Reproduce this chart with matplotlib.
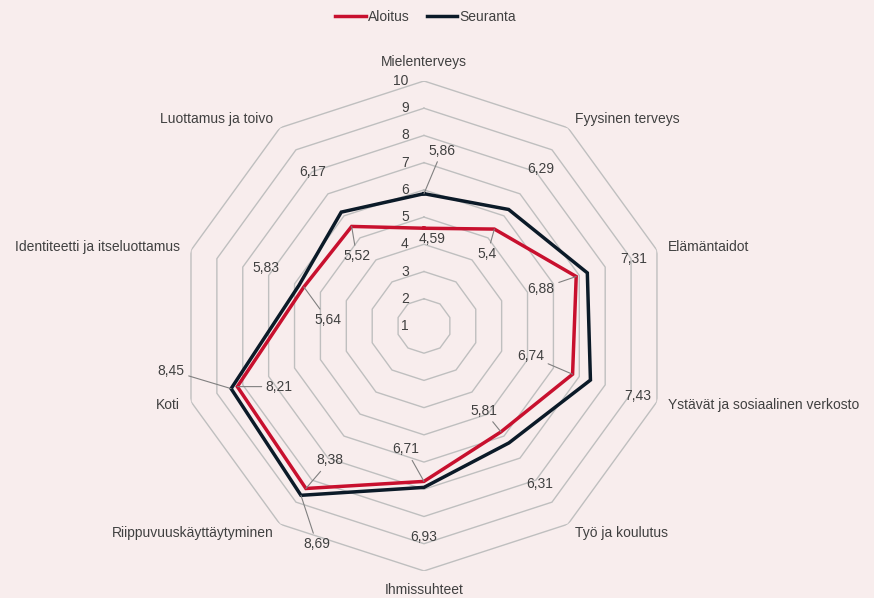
import numpy as np
import matplotlib.pyplot as plt

# data
kategoriat = ['Mielenterveys', 'Fyysinen terveys', 'Elämäntaidot',
              'Ystävät ja sosiaalinen verkosto', 'Työ ja koulutus', 'Ihmissuhteet',
              'Riippuvuuskäyttäytyminen', 'Koti', 'Identiteetti ja itseluottamus',
              'Luottamus ja toivo']
aloitus = [4.59, 5.4, 6.88, 6.74, 5.81, 6.71, 8.38, 8.21, 5.64, 5.52]
seuranta = [5.86, 6.29, 7.31, 7.43, 6.31, 6.93, 8.69, 8.45, 5.83, 6.17]
asteikko = [1, 2, 3, 4, 5, 6, 7, 8, 9, 10]

# label offsets in pixels (dx, dy down), leader line yes/no
off_aloitus = [(8, 11, False), (-7, 25, True), (-35, 12, True), (-42, -18, True),
               (-17, -21, True), (-18, -32, True), (24, -28, True), (42, 0, True),
               (24, 33, True), (5, 30, True)]
off_seuranta = [(18, -43, True), (32, -40, False), (46, -14, False), (47, 16, False),
                (31, 41, False), (0, 50, False), (16, 49, True), (-60, -18, True),
                (-33, -17, False), (-29, -40, False)]

bg = '#F8EDED'
punainen = '#C8102E'
musta = '#0B1A28'
teksti = '#404040'
plt.rcParams['font.family'] = ['Liberation Sans', 'DejaVu Sans']

fig = plt.figure(figsize=(8.74, 5.98), dpi=100)
fig.patch.set_facecolor(bg)
ax = fig.add_axes([0.2048, 0.0452, 0.5606, 0.8194], projection='polar')
ax.set_facecolor('none')
ax.set_theta_zero_location('N')
ax.set_theta_direction(-1)
ax.set_ylim(1, 10)
ax.grid(False)
ax.spines['polar'].set_visible(False)
ax.set_xticks([])
ax.set_yticks([])

n = len(kategoriat)
kulmat = np.linspace(0, 2 * np.pi, n, endpoint=False)
kulmat_k = np.append(kulmat, kulmat[0])

# polygon grid
for r in asteikko[1:]:
    ax.plot(kulmat_k, [r] * (n + 1), color='#BFBFBF', lw=1.0, zorder=1)
for r in asteikko:
    ax.annotate(str(r), xy=(0, r), xytext=(-11, 0), textcoords='offset points',
                ha='right', va='center', fontsize=10, color=teksti)

# series
ax.plot(kulmat_k, aloitus + aloitus[:1], color=punainen, lw=2.5, zorder=3,
        solid_joinstyle='miter', label='Aloitus')
ax.plot(kulmat_k, seuranta + seuranta[:1], color=musta, lw=2.5, zorder=3,
        solid_joinstyle='miter', label='Seuranta')

# data labels
px = 0.72
for arvot, offs in [(aloitus, off_aloitus), (seuranta, off_seuranta)]:
    for t, v, (dx, dy, leader) in zip(kulmat, arvot, offs):
        props = dict(arrowstyle='-', color='#808080', lw=0.8, shrinkA=1, shrinkB=0) if leader else None
        ax.annotate(f'{v:g}'.replace('.', ','), xy=(t, v), xytext=(dx * px, -dy * px),
                    textcoords='offset points', ha='center', va='center',
                    fontsize=10, color=teksti, arrowprops=props, zorder=5)

# category labels
for t, k in zip(kulmat, kategoriat):
    s = np.sin(t)
    if abs(s) < 0.01:
        ax.text(t, 10.7, k, ha='center', va='center', fontsize=10, color=teksti)
    else:
        ax.text(t, 10.41, k, ha='left' if s > 0 else 'right', va='center',
                fontsize=10, color=teksti)

fig.legend(loc='upper center', bbox_to_anchor=(0.487, 1.005), ncol=2, frameon=False,
           fontsize=10, handlelength=2.2, handletextpad=0.15, columnspacing=1.2,
           labelcolor=teksti)

plt.savefig('out.png', dpi=100, facecolor=bg)
